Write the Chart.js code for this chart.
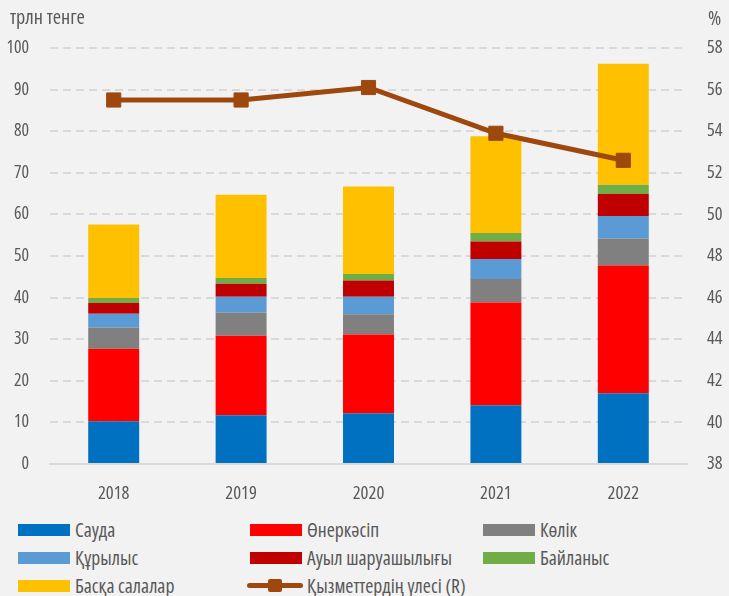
<!DOCTYPE html>
<html>
<head>
<meta charset="utf-8">
<script src="https://cdn.jsdelivr.net/npm/chart.js@4/dist/chart.umd.min.js"></script>
<style>
  body { margin: 0; background: #f2f2f2; }
  #wrap { position: relative; width: 729px; height: 596px; background: #f2f2f2; color: #595959; }
  #chartBox { position: absolute; left: 0; top: 0; width: 729px; height: 512px; }
  .legend { position: absolute; height: 12px; white-space: nowrap; font-stretch: condensed; }
  .legend .box { position: absolute; left: 0; top: 0; width: 52px; height: 12px; }
  .legend span.txt { position: absolute; left: 57px; top: 6px; transform: translateY(-50%); line-height: 1; }
</style>
</head>
<body>
<div id="wrap">
  <div id="chartBox"><canvas id="chart"></canvas></div>
  <div id="legend"></div>
</div>
<script>
// Data (трлн тенге, right axis in %)
const years = ["2018", "2019", "2020", "2021", "2022"];
const trade = [10.3, 11.7, 12.2, 14.1, 17.0];
const industry = [17.4, 19.1, 18.9, 24.7, 30.7];
const transport = [5.1, 5.6, 4.9, 5.7, 6.5];
const construction = [3.3, 3.8, 4.2, 4.8, 5.4];
const agriculture = [2.6, 3.1, 3.9, 4.2, 5.3];
const communication = [1.2, 1.4, 1.6, 2.0, 2.2];
const other = [17.7, 20.0, 21.0, 23.3, 29.1];
const servicesShare = [55.5, 55.5, 56.1, 53.9, 52.6];

const leftTicks = [0, 10, 20, 30, 40, 50, 60, 70, 80, 90, 100];
const rightTicks = [38, 40, 42, 44, 46, 48, 50, 52, 54, 56, 58];
const leftTitle = "трлн тенге";
const rightTitle = "%";

const barSeries = [
  { label: "Сауда", data: trade, color: "#0070c0" },
  { label: "Өнеркәсіп", data: industry, color: "#ff0000" },
  { label: "Көлік", data: transport, color: "#808080" },
  { label: "Құрылыс", data: construction, color: "#5b9bd5" },
  { label: "Ауыл шаруашылығы", data: agriculture, color: "#c00000" },
  { label: "Байланыс", data: communication, color: "#70ad47" },
  { label: "Басқа салалар", data: other, color: "#ffc000" }
];
const lineLabel = "Қызметтердің үлесі (R)";
const lineColor = "#9e480e";
const textColor = "#595959";

// The original uses a narrow DIN-like face; take the narrowest condensed face we have
// and size it so the text widths match.
const measureCtx = document.createElement("canvas").getContext("2d");
function widthAt100(text, family) {
  measureCtx.font = "condensed 100px " + family;
  return measureCtx.measureText(text).width;
}
const family = ["'Open Sans'", "Roboto"]
  .map(f => ({ f, w: widthAt100("2018", f) }))
  .sort((a, b) => a.w - b.w)[0].f;
function fitSize(text, target) { return 100 * target / widthAt100(text, family); }

const xFont = { family, size: fitSize("2018", 31.6), weight: "condensed" };
const yFont = { family, size: fitSize("100", 22.6), weight: "condensed" };
const y1Font = { family, size: fitSize("58", 15.5), weight: "condensed" };
const titleSize = fitSize(leftTitle, 75);

const datasets = barSeries.map(s => ({
  type: "bar",
  label: s.label,
  data: s.data,
  backgroundColor: s.color,
  borderWidth: 0,
  barPercentage: 0.4,
  categoryPercentage: 1,
  stack: "main",
  yAxisID: "y",
  order: 2
}));

datasets.push({
  type: "line",
  label: lineLabel,
  data: servicesShare,
  borderColor: lineColor,
  backgroundColor: lineColor,
  borderWidth: 5,
  pointStyle: "rect",
  pointRadius: 10,
  pointBorderWidth: 1,
  yAxisID: "y1",
  order: 0
});

// axis unit titles in the top corners
const cornerTitles = {
  id: "cornerTitles",
  afterDraw(chart) {
    const ctx = chart.ctx;
    ctx.save();
    ctx.fillStyle = textColor;
    ctx.font = "condensed " + titleSize + "px " + family;
    ctx.textBaseline = "alphabetic";
    ctx.textAlign = "left";
    ctx.fillText(leftTitle, 10, 24);
    ctx.fillText(rightTitle, 708, 25);
    ctx.restore();
  }
};

new Chart(document.getElementById("chart"), {
  data: { labels: years, datasets: datasets },
  plugins: [cornerTitles],
  options: {
    responsive: true,
    maintainAspectRatio: false,
    animation: false,
    layout: { padding: { top: 48, left: 0, right: 0, bottom: 0 } },
    plugins: { legend: { display: false }, tooltip: { enabled: false } },
    scales: {
      x: {
        stacked: true,
        grid: { display: false },
        border: { display: true, color: "#d9d9d9", width: 2 },
        ticks: { color: textColor, font: xFont, padding: 11 },
        afterFit: scale => { scale.height = 48; }
      },
      y: {
        stacked: true,
        position: "left",
        min: 0,
        max: 100,
        afterBuildTicks: scale => { scale.ticks = leftTicks.map(v => ({ value: v })); },
        ticks: { color: textColor, font: yFont, padding: 21 },
        grid: {
          color: ctx => ctx.tick && ctx.tick.value === 0 ? "rgba(0,0,0,0)" : "#d9d9d9",
          lineWidth: 2,
          drawTicks: false
        },
        border: { display: false, dash: [8, 5] },
        afterFit: scale => { scale.width = 50; }
      },
      y1: {
        position: "right",
        min: 38,
        max: 58,
        afterBuildTicks: scale => { scale.ticks = rightTicks.map(v => ({ value: v })); },
        ticks: { color: textColor, font: y1Font, padding: 20 },
        grid: { display: false, drawTicks: false },
        border: { display: false },
        afterFit: scale => { scale.width = 42; }
      }
    }
  }
});

// HTML legend, three columns
const legendEl = document.getElementById("legend");
legendEl.style.fontFamily = family;
const colX = [18, 250, 483];
const rowY = [524, 552, 580];
const items = barSeries.map(s => ({ label: s.label, color: s.color, line: false }));
items.push({ label: lineLabel, color: lineColor, line: true });
const spans = [];
items.forEach((it, i) => {
  const div = document.createElement("div");
  div.className = "legend";
  div.style.left = colX[i % 3] + "px";
  div.style.top = rowY[Math.floor(i / 3)] + "px";
  let marker;
  if (it.line) {
    marker = `<div style="position:absolute;left:-3px;top:3px;width:56px;height:5px;background:${it.color};border-radius:3px"></div>
              <div style="position:absolute;left:18px;top:-1px;width:14px;height:13px;background:${it.color};border-radius:2px"></div>`;
  } else {
    marker = `<div class="box" style="background:${it.color}"></div>`;
  }
  div.innerHTML = marker + `<span class="txt">${it.label}</span>`;
  legendEl.appendChild(div);
  spans.push(div.querySelector(".txt"));
});
// size legend text so "Ауыл шаруашылығы" is as wide as in the original
spans.forEach(s => { s.style.fontSize = "100px"; });
const refW = spans[4].getBoundingClientRect().width;
const legendSize = 100 * 145 / refW;
spans.forEach(s => { s.style.fontSize = legendSize + "px"; });
</script>
</body>
</html>
